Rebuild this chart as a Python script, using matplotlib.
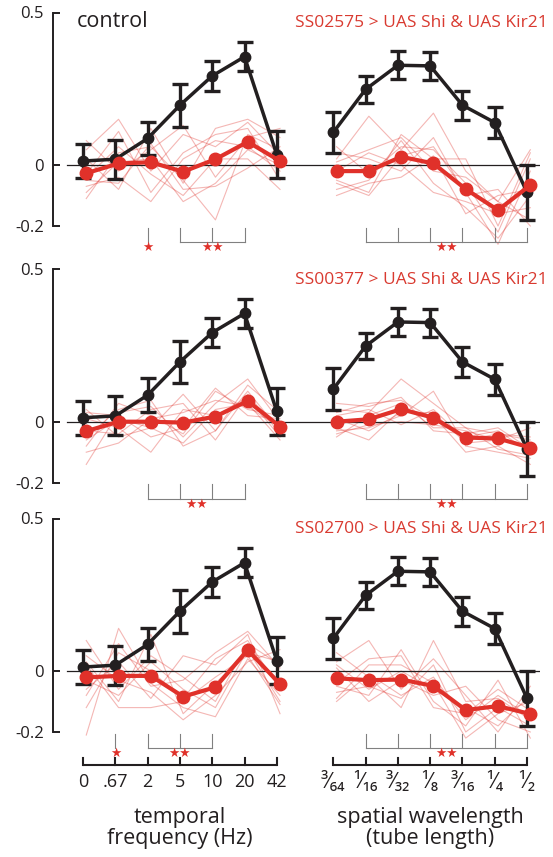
import numpy as np
import matplotlib.pyplot as plt

plt.rcParams['font.family'] = ['Open Sans', 'DejaVu Sans']

BLACK = '#231f20'
RED = '#e0312a'
TXT_RED = '#d93a30'
GRAY = '#808080'

# ---- data -------------------------------------------------------------
tf_labels = ['0', '.67', '2', '5', '10', '20', '42']
sw_labels = ['³⁄₆₄', '¹⁄₁₆', '³⁄₃₂', '¹⁄₈', '³⁄₁₆', '¹⁄₄', '¹⁄₂']
lines = ['SS02575', 'SS00377', 'SS02700']

# control (same in every row)
ctrl_tf = [0.013, 0.019, 0.087, 0.196, 0.292, 0.355, 0.034]
ctrl_tf_err = [0.056, 0.064, 0.055, 0.070, 0.048, 0.048, 0.077]
ctrl_sw = [0.107, 0.248, 0.327, 0.325, 0.196, 0.139, -0.090]
ctrl_sw_err = [0.068, 0.044, 0.046, 0.046, 0.048, 0.050, 0.089]

# silenced lines, mean
exp_tf = [
    [-0.027, 0.005, 0.009, -0.022, 0.019, 0.076, 0.013],
    [-0.031, 0.000, 0.000, -0.003, 0.017, 0.068, -0.016],
    [-0.021, -0.016, -0.016, -0.084, -0.053, 0.069, -0.043],
]
exp_sw = [
    [-0.020, -0.020, 0.027, 0.005, -0.079, -0.148, -0.066],
    [0.000, 0.008, 0.041, 0.013, -0.052, -0.055, -0.085],
    [-0.024, -0.030, -0.028, -0.049, -0.128, -0.115, -0.141],
]

# individual flies
flies_tf = [
    [[-0.11, 0.04, 0.06, -0.05, -0.18, 0.10, 0.05],
     [0.05, 0.15, -0.02, 0.10, 0.06, 0.14, 0.03],
     [-0.07, -0.04, -0.12, 0.02, 0.08, 0.06, -0.02],
     [0.02, -0.08, 0.12, -0.06, 0.12, 0.15, 0.09],
     [-0.04, 0.06, -0.03, -0.10, 0.02, 0.02, -0.08],
     [0.08, -0.02, 0.05, 0.13, -0.04, 0.09, 0.12],
     [-0.09, 0.01, 0.02, -0.12, -0.06, 0.05, 0.00],
     [-0.03, 0.11, -0.09, 0.04, 0.10, 0.12, -0.05],
     [-0.05, -0.06, 0.07, -0.08, -0.07, -0.01, 0.06]],
    [[-0.14, 0.03, 0.05, -0.05, 0.06, 0.14, 0.00],
     [0.04, -0.05, -0.02, 0.09, -0.03, 0.10, -0.03],
     [-0.08, 0.06, 0.02, -0.04, 0.10, 0.04, 0.02],
     [0.01, -0.02, -0.10, 0.04, 0.02, 0.08, -0.05],
     [-0.05, 0.04, 0.07, -0.08, -0.03, 0.12, 0.03],
     [-0.10, -0.07, 0.01, 0.03, 0.07, 0.05, -0.02],
     [0.03, 0.02, -0.05, -0.02, 0.11, 0.02, 0.01],
     [-0.03, -0.04, 0.04, 0.06, -0.06, 0.09, -0.04],
     [-0.06, 0.01, -0.02, -0.07, 0.04, 0.06, -0.06]],
    [[-0.21, 0.14, -0.04, -0.12, -0.15, 0.04, -0.08],
     [0.10, -0.06, 0.05, -0.02, -0.10, 0.09, 0.02],
     [-0.06, 0.03, -0.09, 0.05, 0.02, 0.12, -0.14],
     [0.03, -0.10, 0.12, -0.14, -0.04, 0.06, 0.03],
     [-0.12, 0.06, 0.00, -0.09, 0.04, 0.10, -0.06],
     [0.05, -0.03, -0.07, -0.16, -0.08, 0.03, 0.07],
     [-0.03, -0.08, 0.03, -0.06, -0.12, 0.07, -0.10],
     [-0.08, 0.09, -0.05, -0.03, 0.06, 0.13, 0.01],
     [0.02, -0.12, -0.12, -0.10, -0.02, 0.05, -0.11]],
]
flies_sw = [
    [[0.02, 0.16, 0.05, 0.17, -0.02, -0.12, 0.05],
     [-0.08, -0.05, 0.08, -0.06, -0.14, -0.24, -0.10],
     [0.04, 0.02, -0.02, 0.09, -0.10, -0.08, -0.20],
     [-0.05, -0.09, 0.10, 0.02, 0.02, -0.20, 0.04],
     [-0.02, 0.04, 0.00, -0.09, -0.12, -0.16, -0.14],
     [0.06, -0.03, 0.06, 0.05, -0.06, -0.22, 0.02],
     [-0.10, -0.06, -0.04, 0.03, -0.16, -0.10, -0.08],
     [0.01, 0.05, 0.09, -0.02, -0.04, -0.12, -0.18],
     [-0.06, -0.10, 0.03, 0.06, -0.09, -0.26, -0.02]],
    [[0.04, 0.03, 0.14, 0.06, -0.02, -0.04, -0.06],
     [-0.03, -0.02, 0.02, 0.10, -0.08, -0.10, -0.12],
     [0.06, 0.05, 0.08, -0.03, -0.04, -0.02, -0.09],
     [-0.02, -0.06, 0.04, 0.02, -0.10, -0.08, -0.14],
     [0.02, 0.04, -0.01, 0.04, -0.06, -0.04, -0.05],
     [-0.05, 0.02, 0.06, -0.02, -0.02, -0.09, -0.11],
     [0.01, -0.03, 0.03, 0.03, -0.07, -0.06, -0.08],
     [0.03, 0.06, 0.07, 0.01, -0.05, -0.03, -0.10],
     [-0.04, -0.01, 0.00, -0.01, -0.03, -0.06, -0.02]],
    [[0.03, 0.10, -0.06, 0.04, -0.08, -0.20, -0.05],
     [-0.05, -0.08, 0.07, -0.10, -0.18, -0.03, -0.22],
     [0.06, -0.02, -0.12, 0.10, -0.10, -0.09, -0.16],
     [-0.09, 0.02, 0.02, -0.04, -0.22, -0.14, -0.10],
     [0.01, -0.10, -0.03, -0.08, -0.05, -0.16, -0.20],
     [-0.04, 0.04, 0.05, -0.12, -0.14, -0.06, -0.13],
     [-0.07, -0.05, -0.09, 0.02, -0.20, -0.12, -0.18],
     [0.02, -0.06, 0.00, -0.06, -0.12, -0.18, -0.08],
     [-0.10, -0.01, -0.08, -0.02, -0.16, -0.08, -0.15]],
]

# significance marks (indices into the 7 conditions)
single_tf = [2, None, 1]
bracket_tf = [(3, 5), (2, 5), (2, 4)]
stars_tf = [4, 3.5, 3]
bracket_sw = [(1, 6), (1, 6), (1, 6)]
stars_sw = [3.5, 3.5, 3.5]

# ---- layout -----------------------------------------------------------
W, H = 553, 857
fig = plt.figure(figsize=(W / 100, H / 100), dpi=100)

x_tf = np.arange(7)
x_sw = np.arange(7) + 7.75
off = 0.1  # red traces are nudged right a bit
zero_px = [165, 421.7, 671]

for r in range(3):
    top = zero_px[r] - 152.5
    bot = zero_px[r] + 61
    ax = fig.add_axes([53 / W, 1 - bot / H, 487 / W, (bot - top) / H])
    ax.set_xlim(-0.93, 14.15)
    ax.set_ylim(-0.2, 0.5)
    for s in ['top', 'right', 'bottom']:
        ax.spines[s].set_visible(False)
    ax.spines['left'].set_bounds(-0.2, 0.5)
    ax.spines['left'].set_linewidth(1.4)
    ax.spines['left'].set_color(BLACK)
    ax.set_xticks([])
    ax.set_yticks([-0.2, 0, 0.5])
    ax.set_yticklabels(['-0.2', '0', '0.5'])
    ax.tick_params(axis='y', direction='in', length=5, width=1.4, pad=6.5,
                   labelsize=12, color=BLACK, labelcolor=BLACK)

    ax.plot([-0.5, 14.15], [0, 0], color=BLACK, lw=0.9, zorder=2)

    for xs, flies, mean, ctrl, err in [
            (x_tf, flies_tf[r], exp_tf[r], ctrl_tf, ctrl_tf_err),
            (x_sw, flies_sw[r], exp_sw[r], ctrl_sw, ctrl_sw_err)]:
        for f in flies:
            ax.plot(xs + off, f, color=RED, alpha=0.35, lw=0.8, zorder=1,
                    clip_on=False)
        ax.errorbar(xs, ctrl, yerr=err, color=BLACK, lw=2.5, marker='o',
                    ms=7.5, capsize=5.5, capthick=2.4, elinewidth=2.4,
                    zorder=3, clip_on=False)
        ax.plot(xs + off, mean, color=RED, lw=3, marker='o', ms=9,
                zorder=4, clip_on=False)

    # significance
    yb, yt, ys = -0.252, -0.205, -0.27
    kw = dict(color=GRAY, lw=0.8, clip_on=False)
    if single_tf[r] is not None:
        ax.plot([single_tf[r]] * 2, [yt, yb], **kw)
        ax.text(single_tf[r], ys, '★', color=RED, fontsize=9, ha='center',
                va='center', family='DejaVu Sans')
    for (a, b), st, xs in [(bracket_tf[r], stars_tf[r], x_tf),
                           (bracket_sw[r], stars_sw[r], x_sw)]:
        ax.plot([xs[a], xs[b]], [yb, yb], **kw)
        for k in range(a, b + 1):
            ax.plot([xs[k]] * 2, [yt, yb], **kw)
        ax.text(xs[0] + st, ys, '★★', color=RED, fontsize=9, ha='center',
                va='center', family='DejaVu Sans')

    if r == 0:
        ax.text(-0.19, 0.469, 'control', color=BLACK, fontsize=15.5,
                ha='left', va='center')
    ax.text(14.4, 0.465, lines[r] + ' > UAS Shi & UAS Kir21', color=TXT_RED,
            fontsize=12.5, ha='right', va='center', clip_on=False)

    if r == 2:
        ya, ytk, ylab = -0.308, -0.285, -0.364
        for xs, labs in [(x_tf, tf_labels), (x_sw, sw_labels)]:
            ax.plot([xs[0], xs[-1]], [ya, ya], color=BLACK, lw=1.5,
                    clip_on=False, solid_capstyle='butt')
            for xv, lab in zip(xs, labs):
                ax.plot([xv, xv], [ya, ytk], color=BLACK, lw=1.5,
                        clip_on=False)
                ax.text(xv, ylab, lab, ha='center', va='center',
                        fontsize=13 if labs is tf_labels else 15,
                        color=BLACK, family=['Open Sans', 'DejaVu Sans'])
        ax.text(x_tf[3], -0.515, 'temporal\nfrequency (Hz)', ha='center',
                va='center', fontsize=15.5, linespacing=1.05, color=BLACK)
        ax.text(x_sw[3], -0.515, 'spatial wavelength\n(tube length)',
                ha='center', va='center', fontsize=15.5, linespacing=1.05,
                color=BLACK)

fig.savefig('out.png', dpi=100)
